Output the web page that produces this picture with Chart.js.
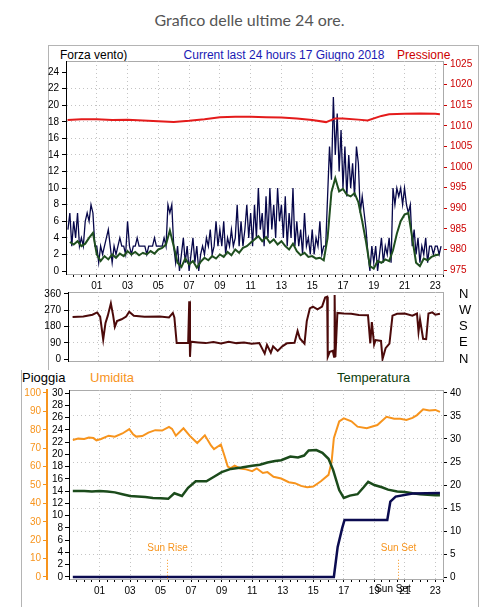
<!DOCTYPE html>
<html>
<head>
<meta charset="utf-8">
<script src="https://cdn.jsdelivr.net/npm/chart.js@4.4.1/dist/chart.umd.min.js"></script>
<style>
  html, body { margin: 0; padding: 0; background: #fff; }
  #page { position: relative; width: 499px; height: 607px; overflow: hidden; font-family: "Liberation Sans", Arial, sans-serif; }
  canvas { position: absolute; left: 0; top: 0; }
  .lbl { position: absolute; white-space: nowrap; font-size: 12px; line-height: 14px; }
  .rule { position: absolute; background: #b4b4b4; }
</style>
</head>
<body>
<div id="page">
  <div class="lbl" style="left:0;width:499px;top:10px;text-align:center;font-family:Lato,sans-serif;font-size:16px;line-height:20px;color:#555;">Grafico delle ultime 24 ore.</div>

  <div class="rule" style="left:48px;top:45px;width:431px;height:1px;"></div>
  <div class="rule" style="left:48px;top:45px;width:1px;height:325px;"></div>
  <div class="rule" style="left:478px;top:45px;width:1px;height:562px;"></div>
  <div class="rule" style="left:21px;top:370px;width:1px;height:237px;"></div>

  <div class="lbl" style="left:60px;top:48px;color:#000;">Forza vento)</div>
  <div class="lbl" style="left:284px;top:48px;transform:translateX(-50%);color:#1a1ab4;">Current last 24 hours 17 Giugno 2018</div>
  <div class="lbl" style="left:397px;top:48px;color:#cc0000;">Pressione</div>

  <div class="lbl" style="left:22px;top:371px;font-size:13px;color:#000;">Pioggia</div>
  <div class="lbl" style="left:90px;top:371px;font-size:13px;color:#f7941d;">Umidita</div>
  <div class="lbl" style="left:337px;top:371px;font-size:13px;color:#0d3d0d;">Temperatura</div>

  <canvas id="cWind" width="499" height="607"></canvas>
  <canvas id="cDir" width="499" height="607"></canvas>
  <canvas id="cRain" width="499" height="607"></canvas>
</div>

<script>
// ---- data (hours relative to midnight of 17 June 2018) ----
const GUST_START = -0.875, GUST_STEP = 0.125;   // one reading every 7.5 min
const gustSpeed = [
  5, 7, 3, 6, 4, 7, 3,            // 23h (day before)
  4, 3, 6, 7, 6, 8, 7, 3,         // 00
  3, 1, 3, 2, 3, 4, 5, 3,         // 01
  1, 3, 2, 3, 4, 3, 3, 2,         // 02
  6, 3, 2, 3, 3, 4, 3, 3,         // 03
  3, 3, 2, 3, 3, 3, 4, 3,         // 04
  3, 3, 3, 4, 3, 8, 7, 8,         // 05
  3, 1, 3, 0, 2, 4, 1, 3,         // 06
  0, 2, 4, 1, 3, 0, 2, 3,         // 07
  2, 4, 3, 5, 2, 3, 6, 3,         // 08
  5, 3, 6, 2, 4, 3, 5, 3,         // 09
  4, 8, 3, 6, 3, 5, 8, 4,         // 10
  7, 3, 8, 4, 10, 5, 7, 3,        // 11
  9, 4, 10, 5, 8, 4, 10, 6,       // 12
  8, 4, 9, 3, 7, 4, 10, 3,        // 13
  6, 3, 5, 2, 7, 3, 4, 2,         // 14
  5, 2, 4, 3, 6, 2, 3, 3,         // 15
  9, 15, 11, 21, 14, 19, 12, 17,  // 16
  10, 15, 9, 14, 10, 13, 9, 15,   // 17
  13, 7, 9, 7, 5, 2, 0, 3,        // 18
  1, 3, 0, 2, 4, 1, 3, 2,         // 19
  4, 1, 10, 8, 10, 9, 10, 8,      // 20
  10, 8, 7, 8, 3, 5, 2, 4,        // 21
  1, 3, 2, 4, 1, 3, 3, 2,         // 22
  3, 3, 2, 3                      // 23
];

const AVG_START = -0.75, AVG_STEP = 0.25;       // 15 min average
const avgSpeed = [
  3.5, 3.2, 3.6,
  3.0, 3.3, 4.0, 4.6,
  2.0, 1.2, 1.8, 1.4,
  2.0, 1.6, 2.1, 1.8,
  2.4, 2.0, 2.3, 1.9,
  2.2, 2.0, 2.4, 2.1,
  2.6, 2.8, 3.2, 4.9,
  3.0, 1.0, 0.5, 1.5,
  0.8, 1.2, 0.4, 1.1,
  1.6, 1.3, 1.8, 1.5,
  2.0, 1.7, 2.3, 1.9,
  2.6, 2.2, 2.8, 3.0,
  3.4, 3.8, 4.2, 3.6,
  4.1, 3.4, 3.8, 3.2,
  3.6, 3.0, 2.6, 3.3,
  2.4, 1.9, 2.2, 1.7,
  1.8, 1.5, 1.6, 1.3,
  4.0, 9.5, 11.2, 9.6,
  9.9, 9.2, 9.0, 9.4,
  8.3, 6.0, 3.5, 0.6,
  0.3, 1.2, 1.0, 1.4,
  1.2, 2.5, 4.5, 6.0,
  6.8, 7.0, 4.0, 1.0,
  0.6, 1.5, 1.3, 1.7,
  1.9, 2.0
];

const pressHours = [-0.9, 0, 1, 2, 3, 4, 5, 6, 7, 8, 9, 10, 11, 12, 13, 14, 15, 15.9, 16.5, 17, 18, 18.6, 19.5, 20, 21, 22, 23, 23.3];
const pressure   = [1011.4, 1011.6, 1011.6, 1011.4, 1011.5, 1011.3, 1011.1, 1010.9, 1011.2, 1011.6, 1012.1, 1012.2, 1012.2, 1012.1, 1012.0, 1011.8, 1011.4, 1010.9, 1011.8, 1011.8, 1011.5, 1011.3, 1012.4, 1012.8, 1012.9, 1013.0, 1012.9, 1012.8];

const dirHours = [-0.7, 0, 0.6, 0.9, 1.1, 1.3, 1.45, 1.6, 1.8, 1.95, 2.06, 2.2, 2.5, 2.8, 3.0, 3.3, 4.0, 5.0, 5.6, 5.85, 5.95, 6.1, 6.85, 6.92, 6.97, 7.02,
  7.5, 8.0, 8.5, 9.0, 9.5, 10.0, 10.5, 11.0, 11.5, 11.85, 12.0, 12.25, 12.4, 12.7, 13.0, 13.3, 13.8, 14.0, 14.15, 14.45, 14.6, 14.8, 15.0, 15.3, 15.6, 15.8,
  15.93, 15.97, 16.1, 16.3, 16.38, 16.42, 16.47, 16.6, 17.0, 17.5, 18.0, 18.6, 18.75, 18.85, 19.0, 19.1, 19.45, 19.55, 19.75, 20.0, 20.2, 20.5, 21.0, 21.5,
  21.8, 21.9, 22.0, 22.2, 22.4, 22.55, 22.8, 23.0, 23.3];
const dirDegrees = [232, 236, 245, 258, 235, 108, 200, 240, 308, 240, 178, 210, 220, 235, 262, 240, 234, 236, 230, 255, 230, 88, 88, 320, 12, 96,
  92, 88, 94, 86, 95, 88, 92, 84, 88, 30, 78, 35, 70, 45, 70, 87, 90, 155, 114, 85, 210, 280, 290, 275, 290, 340,
  345, 12, 40, 45, 12, 355, 12, 255, 252, 250, 244, 242, 87, 205, 80, 105, 100, 0, 60, 85, 240, 250, 252, 240,
  252, 150, 218, 112, 110, 252, 258, 245, 250];

const tempHours = [-0.75, 0, 0.5, 1, 1.5, 2, 2.5, 3, 3.5, 4, 4.5, 5, 5.5, 5.9, 6.4, 6.8, 7.3, 8.0, 8.5, 9.0, 9.6, 10.3, 11, 11.5, 12, 12.5, 12.9, 13.5,
  14, 14.4, 14.7, 15.2, 15.6, 16, 16.3, 16.7, 17.0, 17.4, 17.9, 18.3, 18.6, 19.0, 19.5, 19.9, 20.5, 21.0, 21.5, 22.0, 22.5, 23.0, 23.3];
const temperature = [18.7, 18.7, 18.6, 18.7, 18.6, 18.4, 18.0, 17.6, 17.5, 17.4, 17.2, 17.1, 17.0, 18.2, 17.6, 19.4, 20.8, 20.8, 21.8, 22.8, 23.5, 23.8, 24.2, 24.4, 24.9, 25.2, 25.4, 26.2,
  26.0, 26.4, 27.5, 27.6, 27.0, 25.7, 23.3, 18.9, 17.2, 17.7, 18.0, 19.5, 20.7, 20.0, 19.5, 19.0, 18.6, 18.5, 18.2, 18.0, 17.9, 17.8, 17.8];

const humHours = [-0.75, -0.4, 0, 0.3, 0.6, 0.8, 1.1, 1.6, 2.0, 2.5, 2.95, 3.2, 3.4, 3.8, 4.2, 4.65, 5.1, 5.55, 5.75, 6.0, 6.5, 6.9, 7.4, 7.9, 8.3, 8.5,
  8.95, 9.2, 9.4, 9.6, 9.85, 10.2, 10.6, 11.0, 11.3, 11.7, 12.0, 12.4, 12.9, 13.4, 13.8, 14.2, 14.6, 15.0, 15.5, 16.0, 16.2, 16.35, 16.7, 17.0, 17.5,
  17.9, 18.5, 19.2, 19.8, 20.3, 20.7, 21.1, 21.5, 21.8, 22.2, 22.6, 23.0, 23.3];
const humidity = [74.5, 75.2, 75.0, 75.8, 75.5, 74.3, 75.0, 76.8, 76.2, 78.0, 80.4, 77.5, 76.3, 76.6, 78.5, 79.8, 79.6, 81.6, 80.5, 76.8, 80.8, 76.8, 72.8, 77.0, 71.5, 69.5,
  72.0, 65.5, 60.0, 59.2, 60.5, 59.0, 58.5, 57.5, 59.0, 56.5, 57.0, 54.5, 53.5, 51.5, 51.0, 49.5, 48.8, 49.2, 52.0, 55.5, 62.5, 75.5, 84.6, 86.2, 84.6,
  81.7, 80.8, 82.6, 87.1, 86.0, 86.0, 85.3, 86.5, 88.0, 91.1, 90.5, 90.8, 89.7];

const rainHours = [-0.75, 16.35, 16.6, 16.9, 17.05, 19.85, 20.05, 20.4, 21.5, 23.3];
const rainTotal = [0, 0, 4.9, 8.0, 9.3, 9.3, 12.3, 13.1, 13.6, 13.7];

const sunHours = [5.45, 20.55];
const sunLabels = ['Sun Rise', 'Sun Set'];

const windTicks = [0, 2, 4, 6, 8, 10, 12, 14, 16, 18, 20, 22, 24];
const pressTicks = [975, 980, 985, 990, 995, 1000, 1005, 1010, 1015, 1020, 1025];
const dirTicks = [0, 90, 180, 270, 360];
const compassLabels = ['N', 'E', 'S', 'W', 'N'];
const rainTicks = [0, 2, 4, 6, 8, 10, 12, 14, 16, 18, 20, 22, 24, 26, 28, 30];
const humTicks = [0, 10, 20, 30, 40, 50, 60, 70, 80, 90, 100];
const tempTicks = [0, 5, 10, 15, 20, 25, 30, 35, 40];

// ---- styling ----
const XMIN = -1.0, XMAX = 23.5;
const GRID = '#c4c4c4';
const FRAME = '#ababab';
const C_GUST = '#07074a', C_AVG = '#1f4f1f', C_PRESS = '#e41b1b', C_DIR = '#4c0a0a';
const C_HUM = '#f7941d', C_TEMP = '#1b4b1b', C_RAIN = '#0b0b50';
const tickFont = { family: '"Liberation Sans", Arial, sans-serif', size: 10 };

Chart.defaults.animation = false;
Chart.defaults.events = [];
Chart.defaults.plugins.legend.display = false;
Chart.defaults.plugins.tooltip.enabled = false;

const pairs = (xs, ys) => ys.map((y, i) => ({ x: xs[i], y }));
const evenSpaced = (start, step, ys) => ys.map((y, i) => ({ x: start + i * step, y }));

function hourAxis(showLabels, height) {
  return {
    type: 'linear', position: 'bottom', min: XMIN, max: XMAX,
    afterBuildTicks: s => {
      const t = [];
      for (let h = -0.5; h <= XMAX; h += 0.5) t.push({ value: h });
      s.ticks = t;
    },
    ticks: {
      display: showLabels, autoSkip: false, maxRotation: 0, padding: showLabels ? 3 : 0,
      color: '#000', font: tickFont,
      callback: v => (Number.isInteger(v) && Math.abs(v % 2) === 1) ? String(v).padStart(2, '0') : ''
    },
    grid: {
      color: c => (c.tick && Number.isInteger(c.tick.value) && Math.abs(c.tick.value % 2) === 1) ? GRID : 'rgba(0,0,0,0)',
      tickColor: '#000', tickLength: 3, drawTicks: showLabels
    },
    border: { color: FRAME, dash: [1, 3] },
    afterFit: s => { s.height = height; }
  };
}

function valueAxis(o) {
  return {
    type: 'linear', position: o.position, min: o.min, max: o.max, weight: o.weight || 0,
    afterBuildTicks: s => { s.ticks = o.ticks.map(v => ({ value: v })); },
    ticks: { color: o.color, font: o.font || tickFont, padding: o.padding || 3, autoSkip: false, callback: o.callback || (v => v) },
    grid: {
      display: o.grid !== false,
      drawOnChartArea: !!o.drawGrid,
      color: c => (c.tick && c.tick.value > o.ticks[0] && c.tick.value < o.ticks[o.ticks.length - 1]) ? GRID : 'rgba(0,0,0,0)',
      tickColor: o.tickColor || o.color, tickLength: o.tickLength || 4,
      drawTicks: o.grid !== false
    },
    border: { display: o.border !== false, color: o.borderColor || FRAME, width: o.borderWidth || 1, dash: [1, 3] },
    afterFit: s => { s.width = o.width; }
  };
}

const framePlugin = {
  id: 'frame',
  beforeDraw(chart) {
    const { ctx, chartArea: a } = chart;
    ctx.save();
    ctx.strokeStyle = FRAME;
    ctx.lineWidth = 1;
    ctx.strokeRect(a.left + 0.5, a.top + 0.5, a.right - a.left, a.bottom - a.top);
    ctx.restore();
  }
};

const lineDs = (data, color, width, axis) => ({
  data, borderColor: color, borderWidth: width, pointRadius: 0, tension: 0, yAxisID: axis, fill: false
});

// ---- wind speed + pressure ----
new Chart(document.getElementById('cWind'), {
  type: 'line',
  data: {
    datasets: [
      lineDs(pairs(pressHours, pressure), C_PRESS, 2, 'yPress'),
      lineDs(evenSpaced(AVG_START, AVG_STEP, avgSpeed), C_AVG, 2, 'yWind'),
      lineDs(evenSpaced(GUST_START, GUST_STEP, gustSpeed), C_GUST, 1.3, 'yWind')
    ]
  },
  options: {
    responsive: false,
    layout: { padding: { top: 61, left: 0, right: 20, bottom: 607 - 274 - 20 } },
    scales: {
      x: hourAxis(true, 20),
      yWind: valueAxis({ position: 'left', min: -0.36, max: 25.33, ticks: windTicks, color: '#000',
                         borderColor: '#000', width: 66, drawGrid: true }),
      yPress: valueAxis({ position: 'right', min: 974.03, max: 1025.73, ticks: pressTicks, color: '#cc0000',
                          width: 36 })
    }
  },
  plugins: [framePlugin]
});

// ---- wind direction ----
new Chart(document.getElementById('cDir'), {
  type: 'line',
  data: { datasets: [lineDs(pairs(dirHours, dirDegrees), C_DIR, 2, 'yDeg')] },
  options: {
    responsive: false,
    layout: { padding: { top: 292, left: 0, right: 16, bottom: 607 - 361 } },
    scales: {
      x: hourAxis(false, 0),
      yDeg: valueAxis({ position: 'left', min: -11, max: 371, ticks: dirTicks, color: '#000',
                        borderColor: '#000', width: 68, drawGrid: true }),
      yCompass: valueAxis({ position: 'right', min: -11, max: 371, ticks: dirTicks, color: '#000',
                            width: 40, grid: false, border: false, padding: 16,
                            font: { family: tickFont.family, size: 13 },
                            callback: (v, i) => compassLabels[i] })
    }
  },
  plugins: [framePlugin]
});

// ---- rain, humidity, temperature ----
const sunPlugin = {
  id: 'sun',
  afterDatasetsDraw(chart) {
    const { ctx, chartArea, scales } = chart;
    const yTop = scales.yRain.getPixelForValue(2.8);
    const yText = scales.yRain.getPixelForValue(4.7);
    ctx.save();
    sunHours.forEach((h, i) => {
      const x = Math.round(scales.x.getPixelForValue(h)) + 0.5;
      ctx.strokeStyle = C_HUM;
      ctx.lineWidth = 1;
      ctx.setLineDash([1, 2]);
      ctx.beginPath(); ctx.moveTo(x, yTop); ctx.lineTo(x, chartArea.bottom); ctx.stroke();
      ctx.setLineDash([]);
      ctx.fillStyle = C_HUM;
      ctx.font = '10px "Liberation Sans", Arial, sans-serif';
      ctx.textAlign = 'center';
      ctx.textBaseline = 'middle';
      ctx.fillText(sunLabels[i], x, yText);
    });
    // the sunset label also sits in the hour row, on top of "21"
    const xs = scales.x.getPixelForValue(sunHours[1]);
    ctx.fillStyle = '#000';
    ctx.fillText(sunLabels[1], xs - 5, chartArea.bottom + 10);
    ctx.restore();
  }
};

new Chart(document.getElementById('cRain'), {
  type: 'line',
  data: {
    datasets: [
      lineDs(pairs(rainHours, rainTotal), C_RAIN, 2.5, 'yRain'),
      lineDs(pairs(tempHours, temperature), C_TEMP, 2.5, 'yTemp'),
      lineDs(pairs(humHours, humidity), C_HUM, 2, 'yHum')
    ]
  },
  options: {
    responsive: false,
    layout: { padding: { top: 390, left: 20, right: 20, bottom: 607 - 579 - 20 } },
    scales: {
      x: hourAxis(true, 20),
      yRain: valueAxis({ position: 'left', weight: 0, min: -0.33, max: 30.49, ticks: rainTicks, color: '#000',
                         borderColor: '#000', width: 22, padding: 2 }),
      yHum: valueAxis({ position: 'left', weight: 1, min: -1.09, max: 101.63, ticks: humTicks, color: C_HUM,
                        borderColor: C_HUM, borderWidth: 2, width: 27, padding: 2 }),
      yTemp: valueAxis({ position: 'right', min: -0.43, max: 40.65, ticks: tempTicks, color: '#000',
                         tickColor: '#000', width: 36, drawGrid: true })
    }
  },
  plugins: [framePlugin, sunPlugin]
});
</script>
</body>
</html>
